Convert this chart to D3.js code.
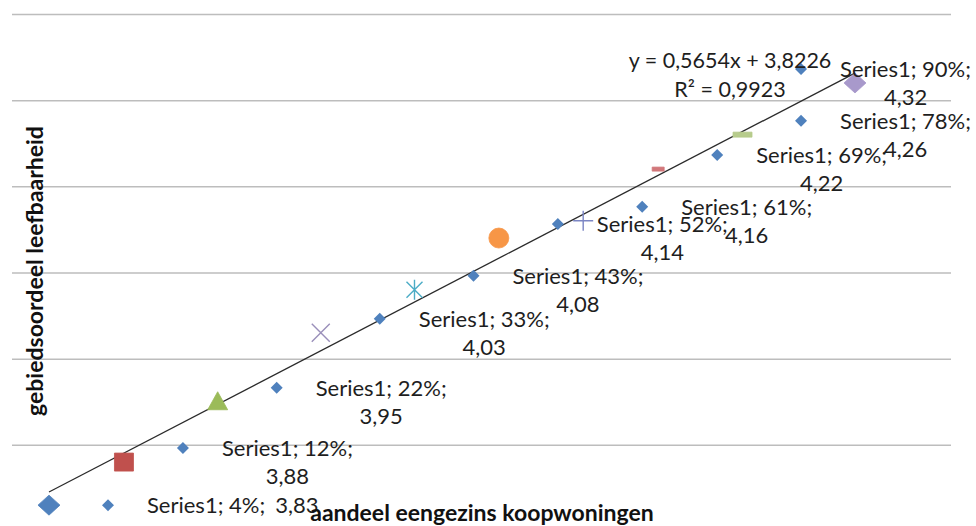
<!DOCTYPE html>
<html>
<head>
<meta charset="utf-8">
<script src="https://cdn.jsdelivr.net/npm/d3@7"></script>
<style>
  html, body { margin: 0; padding: 0; background: #fff; }
  svg { display: block; font-family: Lato, "Open Sans", sans-serif; }
</style>
</head>
<body>
<svg id="chart" width="976" height="526"></svg>
<script>
// Share of owner-occupied single-family homes vs. neighbourhood liveability score
const shares = [0.04, 0.12, 0.22, 0.33, 0.43, 0.52, 0.61, 0.69, 0.78, 0.90];
const scores = [3.83, 3.88, 3.95, 4.03, 4.08, 4.14, 4.16, 4.22, 4.26, 4.32];
const markerShapes = ["diamond", "square", "triangle", "cross", "star", "circle", "plus", "shortDash", "dash", "diamond"];
const markerColors = ["#4F81BD", "#C0504D", "#9BBB59", "#9A8FBA", "#4BACC6", "#F79646", "#7C86C4", "#D2777A", "#B7CC8C", "#A899CB"];
const seriesName = "Series1";
const yTicks = [3.9, 4.0, 4.1, 4.2, 4.3, 4.4];
const trendSlope = 0.5654;
const trendIntercept = 3.8226;
const trendR2 = 0.9923;
const xTitle = "aandeel eengezins koopwoningen";
const yTitle = "gebiedsoordeel leefbaarheid";

const W = 976, H = 526;
const plot = { left: 12, right: 951, top: 14, bottom: 531 };
const fontSize = 22;

const nl = d3.formatLocale({ decimal: ",", thousands: ".", grouping: [3], currency: ["€", ""] });
const fmtVal = nl.format(".2f");
const fmtPct = nl.format(".0%");
const fmtCoef = nl.format(".4f");

const svg = d3.select("#chart");

const x = d3.scaleLinear().domain([0, 1]).range([11.5, 948.7]);
const y = d3.scaleLinear().domain([3.8, 4.4]).range([plot.bottom, plot.top]);

// horizontal gridlines
const grid = svg.append("g")
  .attr("transform", `translate(${plot.left},0)`)
  .call(d3.axisLeft(y).tickValues(yTicks).tickSize(-(plot.right - plot.left)).tickFormat(""));
grid.select(".domain").remove();
grid.selectAll(".tick line").attr("stroke", "#BDBDBD").attr("stroke-width", 1.5);

// linear trendline over the data range
const xr = d3.extent(shares);
svg.append("path")
  .datum(xr.map(v => [v, trendSlope * v + trendIntercept]))
  .attr("d", d3.line().x(d => x(d[0])).y(d => y(d[1])))
  .attr("fill", "none")
  .attr("stroke", "#2b2b2b")
  .attr("stroke-width", 1.3);

// marker shapes
function markerPath(shape) {
  const p = d3.path();
  switch (shape) {
    case "diamond":
      p.moveTo(0, -10); p.lineTo(11, 0); p.lineTo(0, 10); p.lineTo(-11, 0); p.closePath(); break;
    case "square":
      p.rect(-9.5, -9, 19, 18); break;
    case "triangle":
      p.moveTo(0, -10); p.lineTo(10, 8); p.lineTo(-10, 8); p.closePath(); break;
    case "circle":
      p.arc(0, 0, 10, 0, 2 * Math.PI); break;
    case "cross":
      p.moveTo(-9, -9); p.lineTo(9, 9); p.moveTo(9, -9); p.lineTo(-9, 9); break;
    case "star":
      p.moveTo(-8, -8); p.lineTo(8, 8); p.moveTo(8, -8); p.lineTo(-8, 8); p.moveTo(0, -10); p.lineTo(0, 10); break;
    case "plus":
      p.moveTo(-10, 0); p.lineTo(10, 0); p.moveTo(0, -10); p.lineTo(0, 10); break;
    case "shortDash":
      p.rect(-6, -2, 12, 4); break;
    case "dash":
      p.rect(-9.5, -2.5, 19, 5); break;
  }
  return p.toString();
}
const lineShapes = new Set(["cross", "star", "plus"]);

const points = shares.map((s, i) => ({ s, v: scores[i], shape: markerShapes[i], color: markerColors[i] }));

svg.append("g").selectAll("path")
  .data(points)
  .join("path")
  .attr("transform", d => `translate(${x(d.s)},${y(d.v)})`)
  .attr("d", d => markerPath(d.shape))
  .attr("fill", d => lineShapes.has(d.shape) ? "none" : d.color)
  .attr("stroke", d => d.color)
  .attr("stroke-width", d => lineShapes.has(d.shape) ? 1.4 : 0.8);

// data labels with legend key: "Series1; pct; value", wrapped when too wide
const keyPath = "M0,-6L6,0L0,6L-6,0Z";
const labelLayer = svg.append("g").attr("font-size", fontSize).attr("fill", "#1e1e1e");
const keyGap = 59, textGap = 39, lineH = 28, wrapWidth = 7.8 * fontSize, rightLimit = 971;

function measure(str) {
  const t = labelLayer.append("text").text(str);
  const w = t.node().getComputedTextLength();
  t.remove();
  return w;
}

points.forEach(d => {
  const px = x(d.s), py = y(d.v);
  const head = `${seriesName}; ${fmtPct(d.s)};`;
  const tail = fmtVal(d.v);
  const oneLine = measure(`${head} ${tail}`) < wrapWidth;
  if (oneLine) {
    const kx = px + keyGap;
    labelLayer.append("path").attr("d", keyPath).attr("transform", `translate(${kx},${py})`).attr("fill", "#4F81BD");
    const t = labelLayer.append("text").attr("x", kx + textGap).attr("y", py + 8).text(head);
    t.append("tspan").attr("dx", 10).text(tail);
  } else {
    const w1 = measure(head);
    let kx = px + keyGap;
    const over = kx + textGap + w1 - rightLimit;
    if (over > 0) kx -= over;
    const tx = kx + textGap;
    labelLayer.append("path").attr("d", keyPath).attr("transform", `translate(${kx},${py - 14})`).attr("fill", "#4F81BD");
    labelLayer.append("text").attr("x", tx).attr("y", py - 6).text(head);
    labelLayer.append("text").attr("x", tx + w1 / 2).attr("y", py - 6 + lineH).attr("text-anchor", "middle").text(tail);
  }
});

// trendline equation
const eq = svg.append("g").attr("font-size", 21.5).attr("fill", "#1e1e1e").attr("text-anchor", "middle");
eq.append("text").attr("x", 730).attr("y", 68).text(`y = ${fmtCoef(trendSlope)}x + ${fmtCoef(trendIntercept)}`);
eq.append("text").attr("x", 730).attr("y", 97).text(`R² = ${fmtCoef(trendR2)}`);

// axis titles
svg.append("text")
  .attr("transform", "translate(43,271) rotate(-90)")
  .attr("text-anchor", "middle")
  .attr("font-size", 23).attr("font-weight", "bold").attr("fill", "#111")
  .text(yTitle);

svg.append("text")
  .attr("x", 482).attr("y", 521)
  .attr("text-anchor", "middle")
  .attr("font-size", 23).attr("font-weight", "bold").attr("fill", "#111")
  .text(xTitle);
</script>
</body>
</html>
